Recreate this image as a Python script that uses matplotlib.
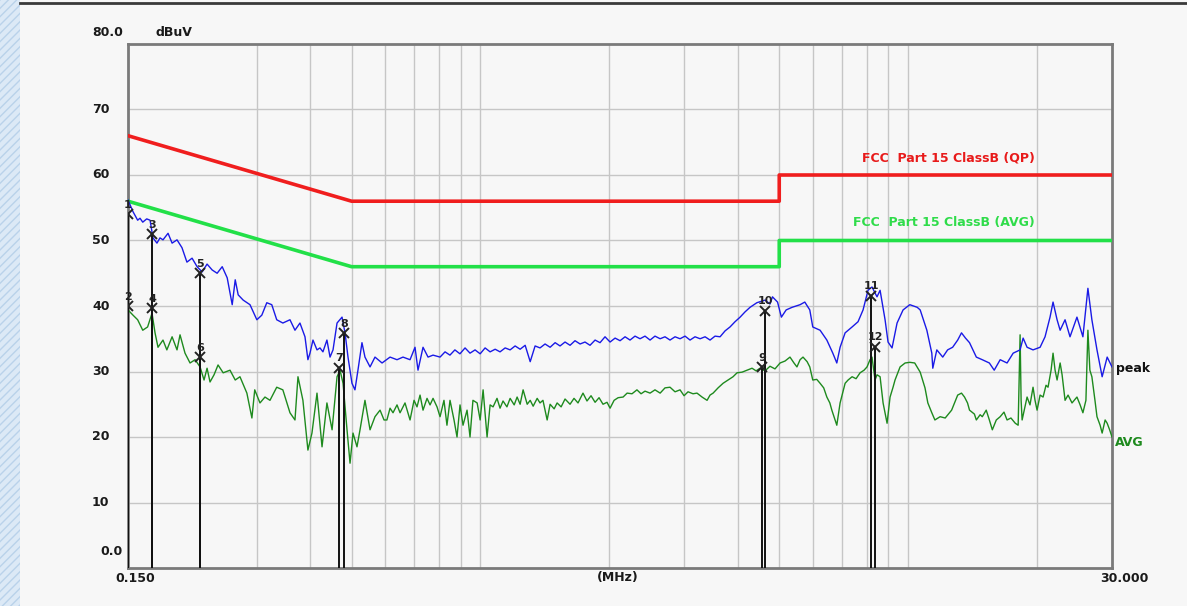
import matplotlib
matplotlib.use('Agg')
import matplotlib.pyplot as plt
from matplotlib.patches import Rectangle
from matplotlib.lines import Line2D
import matplotlib.transforms as mtransforms

# ---------------- data ----------------
peak_freq = [0.150, 0.1541, 0.1580, 0.160, 0.1624, 0.1659, 0.1689, 0.1716, 0.1753, 0.1782,
             0.1811, 0.1861, 0.1902, 0.1953, 0.2006, 0.2060, 0.2118, 0.2176, 0.2236, 0.2296,
             0.2360, 0.2424, 0.2491, 0.2559, 0.2629, 0.2672, 0.2715, 0.2789, 0.2893, 0.3002,
             0.3083, 0.3167, 0.3253, 0.3341, 0.3453, 0.3588, 0.3686, 0.3786, 0.3890, 0.3952,
             0.3996, 0.4061, 0.4150, 0.4217, 0.4285, 0.4378, 0.4452, 0.4524, 0.4623, 0.4749,
             0.4826, 0.4904, 0.5010, 0.5091, 0.5174, 0.5287, 0.5373, 0.5522, 0.5671, 0.5891,
             0.6150, 0.6385, 0.6594, 0.6849, 0.7035, 0.7149, 0.7345, 0.7546, 0.7752, 0.8050,
             0.827, 0.849, 0.872, 0.896, 0.921, 0.946, 0.972, 0.999, 1.026, 1.054,
             1.083, 1.112, 1.143, 1.174, 1.206, 1.239, 1.273, 1.308, 1.343, 1.379,
             1.417, 1.456, 1.496, 1.536, 1.578, 1.621, 1.665, 1.711, 1.757, 1.805,
             1.855, 1.905, 1.957, 2.011, 2.066, 2.122, 2.180, 2.239, 2.300, 2.363,
             2.427, 2.494, 2.561, 2.633, 2.703, 2.777, 2.853, 2.931, 3.011, 3.093,
             3.177, 3.265, 3.354, 3.445, 3.539, 3.636, 3.735, 3.836, 3.941, 4.050,
             4.159, 4.273, 4.432, 4.632, 4.757, 4.821, 4.955, 5.058, 5.190, 5.358,
             5.594, 5.738, 5.894, 5.989, 6.230, 6.461, 6.672, 6.817, 6.939, 7.129,
             7.402, 7.643, 7.852, 8.065, 8.240, 8.465, 8.606, 8.840, 8.983, 9.178,
             9.430, 9.74, 10.10, 10.51, 10.68, 11.07, 11.37, 11.43, 11.68, 12.06,
             12.38, 12.72, 13.07, 13.34, 13.63, 13.93, 14.45, 14.92, 15.50, 15.91,
             16.43, 17.05, 17.62, 18.29, 18.59, 18.99, 19.61, 20.37, 20.92, 21.49,
             21.84, 22.32, 22.69, 23.30, 23.93, 24.84, 25.65, 26.35, 26.92, 27.67,
             28.45, 29.23, 30.0]
peak_level = [56.2, 54.4, 53.1, 53.4, 52.8, 53.3, 53.1, 50.4, 49.6, 50.4,
              50.1, 51.1, 49.6, 50.1, 48.9, 46.7, 47.3, 46.0, 45.2, 46.4,
              45.5, 45.0, 46.0, 44.3, 40.2, 44.0, 41.7, 40.9, 40.2, 37.9,
              38.6, 40.5, 40.2, 37.9, 37.4, 37.9, 36.3, 37.4, 35.3, 31.8,
              32.8, 34.8, 33.3, 33.6, 33.0, 34.8, 32.2, 33.3, 37.4, 38.3,
              35.9, 32.2, 28.2, 27.2, 30.2, 34.4, 32.2, 30.7, 32.2, 31.3,
              32.2, 31.8, 32.2, 31.8, 33.7, 30.2, 33.7, 32.2, 32.5, 32.2,
              33.0, 32.5, 33.3, 32.7, 33.6, 32.8, 33.3, 32.7, 33.6, 33.0,
              33.4, 33.0, 33.6, 33.3, 33.9, 33.4, 34.0, 31.5, 33.9, 33.6,
              34.2, 33.7, 34.4, 33.9, 34.5, 34.0, 34.7, 34.2, 34.5, 34.0,
              34.8, 34.4, 35.3, 34.5, 35.1, 34.7, 35.3, 34.8, 35.4, 35.0,
              35.4, 34.8, 35.4, 35.0, 35.3, 34.8, 35.3, 35.0, 35.4, 34.8,
              35.3, 35.0, 35.3, 34.8, 35.4, 35.3, 36.2, 36.8, 37.6, 38.3,
              39.1, 39.8, 40.5, 40.9, 40.3, 41.4, 40.6, 38.3, 39.4, 39.8,
              40.2, 40.6, 39.4, 36.8, 36.3, 34.8, 32.8, 31.3, 33.7, 35.9,
              36.8, 37.6, 39.4, 42.4, 42.9, 41.4, 42.4, 37.9, 34.5, 33.6,
              37.4, 39.4, 40.2, 39.8, 39.4, 36.3, 32.8, 30.5, 33.3, 32.2,
              33.3, 33.7, 34.8, 35.9, 35.1, 34.4, 32.2, 31.8, 31.3, 30.2,
              31.8, 31.3, 32.8, 33.3, 35.1, 33.7, 33.3, 33.7, 35.3, 38.3,
              40.6, 37.9, 36.3, 37.9, 35.3, 38.3, 35.3, 42.7, 37.9, 33.3,
              29.2, 32.2, 30.7]

avg_freq = [0.150, 0.1541, 0.1580, 0.1624, 0.1667, 0.1707, 0.1735, 0.1763, 0.1811, 0.1849,
            0.1902, 0.1953, 0.1985, 0.2039, 0.2095, 0.2153, 0.2211, 0.2259, 0.2296, 0.2333,
            0.2384, 0.2436, 0.2504, 0.2598, 0.2672, 0.2741, 0.2845, 0.2923, 0.2968, 0.3053,
            0.3136, 0.3222, 0.3341, 0.3453, 0.3588, 0.3686, 0.3746, 0.3847, 0.3952, 0.4039,
            0.4150, 0.4264, 0.4378, 0.4501, 0.4623, 0.4698, 0.4775, 0.4878, 0.4958, 0.5038,
            0.5147, 0.5232, 0.5373, 0.5522, 0.5671, 0.5828, 0.5954, 0.6047, 0.6150, 0.6249,
            0.6385, 0.6490, 0.6666, 0.6849, 0.6998, 0.7111, 0.7228, 0.7345, 0.7505, 0.7628,
            0.7752, 0.7920, 0.8050, 0.8222, 0.8355, 0.8494, 0.8679, 0.8820, 0.8964, 0.9110,
            0.931, 0.946, 0.961, 0.983, 0.999, 1.015, 1.037, 1.054, 1.071, 1.094,
            1.112, 1.130, 1.154, 1.174, 1.200, 1.219, 1.239, 1.259, 1.287, 1.308,
            1.329, 1.358, 1.379, 1.401, 1.433, 1.456, 1.488, 1.512, 1.545, 1.578,
            1.621, 1.656, 1.692, 1.738, 1.776, 1.815, 1.855, 1.895, 1.936, 1.978,
            2.011, 2.055, 2.100, 2.157, 2.204, 2.263, 2.324, 2.376, 2.427, 2.494,
            2.561, 2.633, 2.703, 2.777, 2.853, 2.931, 2.995, 3.060, 3.143, 3.211,
            3.300, 3.390, 3.445, 3.502, 3.597, 3.695, 3.796, 3.899, 3.984, 4.093,
            4.205, 4.319, 4.413, 4.510, 4.632, 4.757, 4.887, 5.023, 5.159, 5.298,
            5.413, 5.500, 5.594, 5.683, 5.810, 5.894, 5.989, 6.119, 6.230, 6.353,
            6.461, 6.566, 6.637, 6.817, 6.939, 7.129, 7.244, 7.402, 7.561, 7.727,
            7.894, 8.022, 8.152, 8.240, 8.375, 8.465, 8.606, 8.746, 8.936, 9.081,
            9.228, 9.327, 9.585, 9.848, 10.10, 10.37, 10.68, 10.96, 11.13, 11.37,
            11.56, 11.89, 12.22, 12.65, 13.07, 13.34, 13.56, 13.78, 13.93, 14.30,
            14.45, 14.75, 14.92, 15.24, 15.50, 15.75, 16.09, 16.43, 16.77, 17.05,
            17.41, 17.82, 18.10, 18.29, 18.39, 18.49, 18.99, 19.29, 19.61, 19.82,
            20.04, 20.37, 20.70, 21.03, 21.26, 21.61, 21.84, 22.08, 22.32, 22.69,
            22.93, 23.30, 23.68, 24.19, 24.84, 25.27, 25.65, 26.07, 26.35, 26.63,
            26.92, 27.37, 27.67, 28.14, 28.45, 28.91, 29.23, 29.62, 30.0]
avg_level = [39.4, 38.6, 37.9, 36.3, 36.8, 38.9, 35.9, 33.7, 34.8, 33.3,
             35.3, 33.3, 35.6, 32.8, 31.3, 31.8, 30.7, 28.7, 30.5, 28.4,
             29.5, 31.0, 29.8, 30.2, 28.7, 29.2, 26.7, 22.9, 27.2, 25.2,
             26.1, 25.6, 27.6, 27.2, 23.7, 22.6, 29.2, 25.6, 18.0, 20.6,
             26.7, 18.5, 25.2, 21.1, 29.2, 30.2, 28.2, 21.1, 16.0, 20.6,
             18.5, 21.1, 25.6, 21.1, 23.1, 24.1, 22.6, 22.6, 24.4, 23.7,
             24.9, 23.7, 25.2, 22.6, 25.6, 24.6, 26.4, 24.1, 25.9, 24.9,
             25.9, 24.6, 23.1, 25.6, 21.8, 25.6, 22.6, 20.0, 24.9, 21.8,
             24.1, 20.0, 25.6, 25.2, 22.6, 27.2, 20.0, 24.9, 24.6, 25.9,
             24.4, 25.5, 24.6, 25.9, 24.9, 26.1, 25.0, 27.2, 25.0, 25.6,
             24.7, 25.9, 25.2, 25.6, 22.6, 25.0, 24.3, 25.2, 24.6, 25.8,
             25.0, 25.9, 25.2, 26.7, 25.5, 26.3, 25.3, 26.0, 25.0, 25.3,
             24.4, 25.6, 26.0, 26.1, 26.7, 26.6, 27.2, 26.6, 27.0, 26.7,
             27.2, 26.7, 27.5, 27.6, 26.9, 27.2, 26.3, 26.9, 26.6, 26.7,
             26.1, 25.6, 26.4, 26.7, 27.5, 28.2, 28.7, 29.2, 29.8, 29.9,
             30.2, 30.5, 30.1, 30.5, 30.1, 30.8, 30.4, 31.3, 31.6, 32.2,
             31.3, 30.7, 31.8, 32.2, 31.5, 30.7, 28.7, 28.8, 28.2, 27.5,
             26.1, 25.2, 24.1, 21.8, 25.2, 28.2, 28.7, 29.2, 28.9, 29.8,
             30.2, 30.7, 31.8, 32.2, 28.7, 29.5, 29.2, 25.2, 22.1, 26.1,
             27.6, 28.7, 30.7, 31.3, 31.4, 31.3, 29.9, 27.5, 25.2, 23.7,
             22.6, 23.1, 22.9, 24.1, 26.4, 26.7, 26.1, 25.2, 24.1, 23.5,
             22.6, 23.4, 23.1, 24.1, 22.6, 21.1, 22.6, 23.1, 23.8, 22.6,
             22.9, 22.1, 21.8, 35.6, 25.6, 22.6, 26.1, 24.9, 27.6, 25.6,
             24.1, 26.4, 26.1, 27.9, 27.6, 30.2, 32.8, 30.2, 28.7, 31.3,
             29.5, 25.6, 26.4, 25.2, 26.1, 24.9, 23.7, 25.6, 36.3, 30.2,
             29.2, 25.6, 23.1, 21.8, 20.6, 22.6, 22.1, 21.1, 20.0]

qp_limit_freq = [0.15, 0.5, 5.0, 5.0, 30.0]
qp_limit_level = [66.0, 56.0, 56.0, 60.0, 60.0]
avg_limit_freq = [0.15, 0.5, 5.0, 5.0, 30.0]
avg_limit_level = [56.0, 46.0, 46.0, 50.0, 50.0]

marker_ids = [1, 2, 3, 4, 5, 6, 7, 8, 9, 10, 11, 12]
marker_freq = [0.150, 0.150, 0.1707, 0.1707, 0.2211, 0.2211, 0.4673, 0.4800, 4.557, 4.632, 8.196, 8.375]
marker_level = [54.0, 40.0, 51.0, 39.7, 45.0, 32.2, 30.6, 35.9, 30.7, 39.3, 41.6, 33.8]

y_grid = [10, 20, 30, 40, 50, 60, 70]
y_label_vals = [80, 70, 60, 50, 40, 30, 20, 10, 0]
y_label_text = ["80.0", "70", "60", "50", "40", "30", "20", "10", "0.0"]
x_grid = [0.3, 0.4, 0.5, 0.6, 0.7, 0.8, 0.9, 1, 2, 3, 4, 5, 6, 7, 8, 9, 10, 20]

qp_label = "FCC  Part 15 ClassB (QP)"
avg_label = "FCC  Part 15 ClassB (AVG)"

# ---------------- figure ----------------
W, H = 1187, 606
BG = '#f7f7f7'
fig = plt.figure(figsize=(W / 100, H / 100), dpi=100, facecolor=BG)

# decorative left stripe and top rule
fig.patches.append(Rectangle((0, 0), 20 / W, 1, transform=fig.transFigure,
                             facecolor='#dce9f6', edgecolor='#b9d2ea', hatch='////',
                             lw=0, zorder=0))
fig.lines.append(Line2D([20 / W, 1], [1 - 3 / H, 1 - 3 / H], transform=fig.transFigure,
                        color='#3a3a3a', lw=2))

L, R, T, B = 128, 1112, 44, 568
ax = fig.add_axes([L / W, 1 - B / H, (R - L) / W, (B - T) / H])
ax.set_facecolor(BG)
ax.set_xscale('log')
ax.set_xlim(0.15, 30)
ax.set_ylim(0, 80)
ax.tick_params(which='both', length=0, labelbottom=False, labelleft=False)
ax.set_xticks([])
ax.set_yticks([])
ax.minorticks_off()
for s in ax.spines.values():
    s.set_color('#7a7a7a')
    s.set_linewidth(2)

grid_c = '#c6c6c6'
for g in x_grid:
    ax.axvline(g, color=grid_c, lw=1, zorder=0)
for g in y_grid:
    ax.axhline(g, color=grid_c, lw=1, zorder=0)

# limit lines
ax.plot(qp_limit_freq, qp_limit_level, color='#f01e1e', lw=2.6, zorder=3)
ax.plot(avg_limit_freq, avg_limit_level, color='#22e048', lw=2.6, zorder=3)

# traces
ax.plot(avg_freq, avg_level, color='#1e8a1e', lw=1.0, zorder=4)
ax.plot(peak_freq, peak_level, color='#1a1ae6', lw=1.0, zorder=5)

# markers
ax.vlines(marker_freq, 0, marker_level, color='#111111', lw=1.4, zorder=6)
ax.plot(marker_freq, marker_level, 'x', color='#222222', ms=7, mew=1.4, zorder=7)
for mid, f, v in zip(marker_ids, marker_freq, marker_level):
    ax.annotate(str(mid), (f, v), xytext=(0, 3), textcoords='offset points',
                ha='center', va='bottom', fontsize=8, fontweight='bold',
                color='#222222', zorder=8)

# limit labels
ax.text(19.8, 62.6, qp_label, color='#e81a1a', fontsize=9, fontweight='bold',
        ha='right', va='center', family='DejaVu Sans')
ax.text(19.8, 52.7, avg_label, color='#2fdc4a', fontsize=9, fontweight='bold',
        ha='right', va='center', family='DejaVu Sans')

bt = mtransforms.blended_transform_factory(ax.transAxes, ax.transData)
ax.text(1.004, 30.5, "peak", transform=bt, fontsize=9, fontweight='bold',
        color='#111111', ha='left', va='center')
ax.text(1.003, 19.1, "AVG", transform=bt, fontsize=9, fontweight='bold',
        color='#1e8a1e', ha='left', va='center')

# y labels
for v, t in zip(y_label_vals, y_label_text):
    yy = v
    xx = -36 / (R - L)
    if t == "80.0":
        yy = 81.7
    if t == "0.0":
        yy = 2.5
        xx = -28 / (R - L)
    ax.text(xx, yy, t, transform=bt, fontsize=9, fontweight='bold',
            color='#1a1a1a', ha='left', va='center')
ax.text(27 / (R - L), 81.7, "dBuV", transform=bt, fontsize=9, fontweight='bold',
        color='#1a1a1a', ha='left', va='center')

# x labels
ax.text(7 / (R - L), -10 / (B - T), "0.150", transform=ax.transAxes, fontsize=9,
        fontweight='bold', color='#1a1a1a', ha='center', va='center')
ax.text(0.498, -10 / (B - T), "(MHz)", transform=ax.transAxes, fontsize=9,
        fontweight='bold', color='#1a1a1a', ha='center', va='center')
ax.text(1.013, -10 / (B - T), "30.000", transform=ax.transAxes, fontsize=9,
        fontweight='bold', color='#1a1a1a', ha='center', va='center')

fig.savefig('out.png', dpi=100, facecolor=BG)
